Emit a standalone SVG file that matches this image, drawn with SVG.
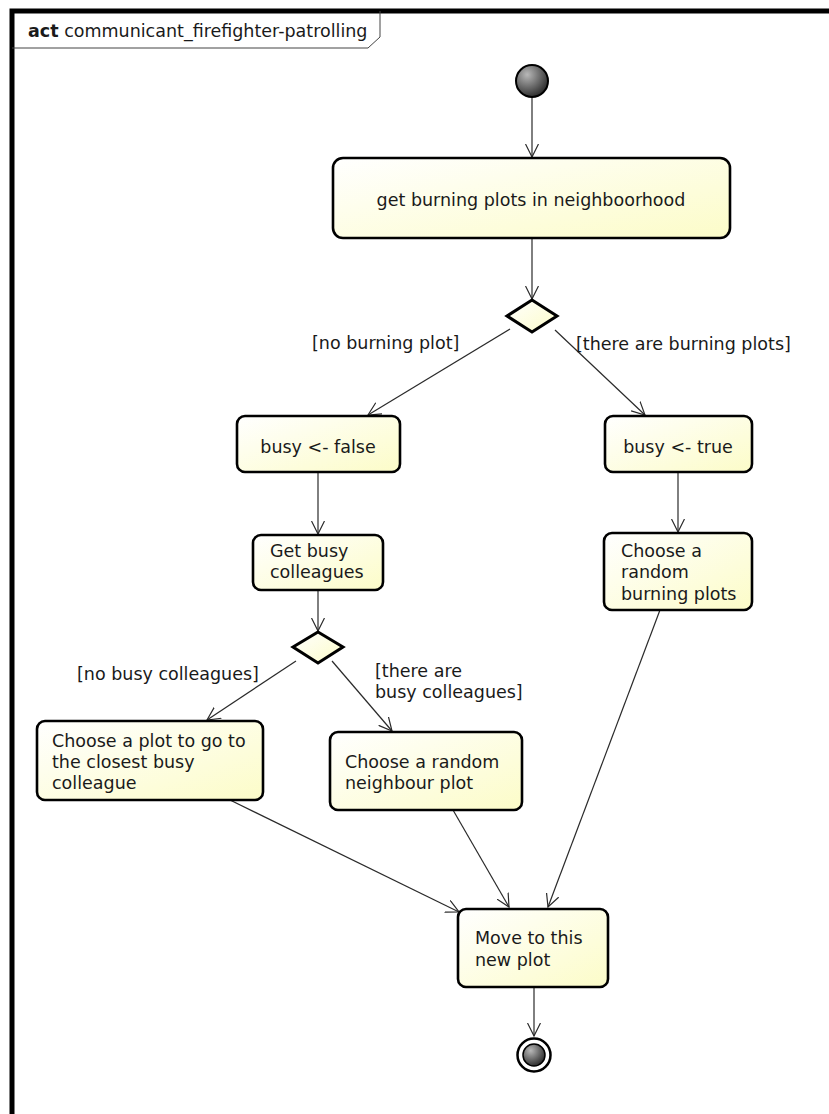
<svg xmlns="http://www.w3.org/2000/svg" width="829" height="1114" viewBox="0 0 829 1114">
  <style>
    text { font-family: "DejaVu Sans", "Liberation Sans", sans-serif; font-size: 17.5px; fill: #1a1a1a; }
    .action { fill: url(#actFill); stroke: #000; stroke-width: 2.6; }
    .decision { fill: url(#actFill); stroke: #000; stroke-width: 3; }
    .edge { fill: none; stroke: #2a2a2a; stroke-width: 1.2; marker-end: url(#openArrow); }
    .mid { text-anchor: middle; }
  </style>
  <defs>
    <linearGradient id="actFill" x1="0" y1="0" x2="1" y2="1">
      <stop offset="0" stop-color="#ffffff"/>
      <stop offset="1" stop-color="#fcfcc8"/>
    </linearGradient>
    <radialGradient id="dotFill" cx="0.35" cy="0.3" r="0.8">
      <stop offset="0" stop-color="#b8b8b8"/>
      <stop offset="1" stop-color="#1e1e1e"/>
    </radialGradient>
    <marker id="openArrow" viewBox="0 0 14 14" refX="13" refY="7" markerWidth="14" markerHeight="14" markerUnits="userSpaceOnUse" orient="auto">
      <path d="M0,0.5 L13,7 L0,13.5" fill="none" stroke="#2a2a2a" stroke-width="1.2"/>
    </marker>
  </defs>

  <rect width="829" height="1114" fill="#ffffff"/>

  <!-- diagram frame with name tab -->
  <g id="frame">
    <rect x="12" y="11" width="840" height="1130" fill="none" stroke="#000" stroke-width="5"/>
    <path d="M12,48 L368,48 L380,37 L380,11" fill="none" stroke="#444" stroke-width="1"/>
    <text x="28" y="37"><tspan font-weight="bold">act</tspan> communicant_firefighter-patrolling</text>
  </g>

  <!-- connectors -->
  <g id="connectors">
    <line class="edge" x1="532" y1="97" x2="532" y2="157"/>
    <line class="edge" x1="532" y1="238" x2="532" y2="299"/>
    <line class="edge" x1="510" y1="329" x2="368" y2="415"/>
    <line class="edge" x1="555" y1="330" x2="645" y2="415"/>
    <line class="edge" x1="318" y1="472" x2="318" y2="534"/>
    <line class="edge" x1="678" y1="472" x2="678" y2="532"/>
    <line class="edge" x1="318" y1="590" x2="318" y2="631"/>
    <line class="edge" x1="296" y1="661" x2="207" y2="720"/>
    <line class="edge" x1="332" y1="661" x2="392" y2="731"/>
    <line class="edge" x1="230" y1="800" x2="459" y2="912"/>
    <line class="edge" x1="453" y1="810" x2="509" y2="907"/>
    <line class="edge" x1="660" y1="610" x2="548" y2="907"/>
    <line class="edge" x1="534" y1="987" x2="534" y2="1036"/>
  </g>

  <!-- guard labels -->
  <g id="guards">
    <text x="312" y="349">[no burning plot]</text>
    <text x="576" y="350">[there are burning plots]</text>
    <text x="77" y="680">[no busy colleagues]</text>
    <text x="375" y="677">[there are</text>
    <text x="375" y="698">busy colleagues]</text>
  </g>

  <g id="initial">
    <circle cx="532" cy="81" r="16" fill="url(#dotFill)" stroke="#000" stroke-width="2"/>
  </g>

  <g id="getBurningPlots">
    <rect class="action" x="333" y="158" width="397" height="80" rx="10"/>
    <text class="mid" x="531" y="206">get burning plots in neighboorhood</text>
  </g>

  <g id="decisionBurning">
    <polygon class="decision" points="532,300 557,316 532,332 507,316"/>
  </g>

  <g id="busyFalse">
    <rect class="action" x="237" y="416" width="163" height="56" rx="8"/>
    <text class="mid" x="318" y="453">busy &lt;- false</text>
  </g>

  <g id="busyTrue">
    <rect class="action" x="605" y="416" width="147" height="56" rx="8"/>
    <text class="mid" x="678" y="453">busy &lt;- true</text>
  </g>

  <g id="getBusyColleagues">
    <rect class="action" x="253" y="535" width="130" height="55" rx="8"/>
    <text x="270" y="557">Get busy</text>
    <text x="270" y="578">colleagues</text>
  </g>

  <g id="chooseBurning">
    <rect class="action" x="604" y="533" width="148" height="77" rx="8"/>
    <text x="621" y="557">Choose a</text>
    <text x="621" y="578">random</text>
    <text x="621" y="600">burning plots</text>
  </g>

  <g id="decisionColleagues">
    <polygon class="decision" points="318,632 343,647 318,663 293,647"/>
  </g>

  <g id="chooseClosest">
    <rect class="action" x="37" y="721" width="226" height="79" rx="8"/>
    <text x="52" y="747">Choose a plot to go to</text>
    <text x="52" y="768">the closest busy</text>
    <text x="52" y="789">colleague</text>
  </g>

  <g id="chooseNeighbour">
    <rect class="action" x="330" y="732" width="192" height="78" rx="8"/>
    <text x="345" y="768">Choose a random</text>
    <text x="345" y="789">neighbour plot</text>
  </g>

  <g id="moveToPlot">
    <rect class="action" x="458" y="909" width="150" height="78" rx="8"/>
    <text x="475" y="944">Move to this</text>
    <text x="475" y="966">new plot</text>
  </g>

  <g id="final">
    <circle cx="534" cy="1055" r="16.5" fill="#fff" stroke="#000" stroke-width="2.5"/>
    <circle cx="534" cy="1055" r="11" fill="url(#dotFill)" stroke="#000" stroke-width="1.5"/>
  </g>
</svg>
